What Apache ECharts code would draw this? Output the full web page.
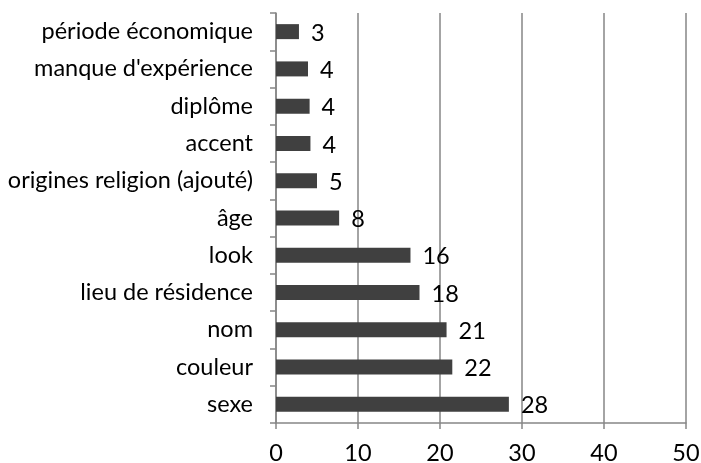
<!DOCTYPE html>
<html>
<head>
<meta charset="utf-8">
<script src="https://cdn.jsdelivr.net/npm/echarts@6/dist/echarts.min.js"></script>
<style>
  html, body { margin: 0; padding: 0; background: #fff; }
  #main { width: 701px; height: 463px; }
</style>
</head>
<body>
<div id="main"></div>
<script>
// catégories de bas en haut
var categories = ['sexe', 'couleur', 'nom', 'lieu de résidence', 'look', 'âge',
  'origines religion (ajouté)', 'accent', 'diplôme', "manque d'expérience", 'période économique'];
var values = [28.4, 21.5, 20.8, 17.5, 16.4, 7.7, 5.0, 4.2, 4.1, 3.9, 2.8];
var xTicks = [0, 10, 20, 30, 40, 50];

var chart = echarts.init(document.getElementById('main'));
var axisGray = '#868686';

var option = {
  animation: false,
  textStyle: { fontFamily: 'Lato' },
  grid: { left: 276, right: 15, top: 13, bottom: 40, outerBoundsMode: 'none' },
  xAxis: {
    type: 'value',
    min: xTicks[0],
    max: xTicks[xTicks.length - 1],
    interval: 10,
    axisLine: { show: true, lineStyle: { color: axisGray, width: 1.5 } },
    axisTick: { show: true, length: 6, lineStyle: { color: axisGray, width: 1.5 } },
    axisLabel: { color: '#000', fontSize: 23.5, margin: 18 },
    splitLine: { show: true, lineStyle: { color: axisGray, width: 1.5 } }
  },
  yAxis: {
    type: 'category',
    data: categories,
    axisLine: { show: true, lineStyle: { color: axisGray, width: 1.5 } },
    axisTick: { show: true, length: 6, lineStyle: { color: axisGray, width: 1.5 } },
    axisLabel: { color: '#000', fontSize: 23.5, margin: 23 }
  },
  series: [{
    type: 'bar',
    data: values,
    barWidth: 15,
    itemStyle: { color: '#404040' },
    label: {
      show: true,
      position: 'right',
      distance: 12,
      offset: [0, 1.5],
      color: '#000',
      fontSize: 23.5,
      fontFamily: 'Lato',
      formatter: function (p) { return Math.round(p.value); }
    }
  }]
};

chart.setOption(option);
</script>
</body>
</html>
